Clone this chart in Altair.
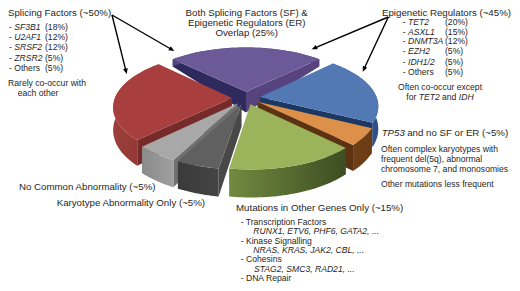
import numpy as np
import pandas as pd
import altair as alt

# ---------- data ----------
slice_names = ["Overlap", "Epigenetic", "TP53", "Other genes", "Karyotype", "No abnormality", "Splicing"]
slice_shares = [25, 20, 5, 15, 5, 5, 25]

# ---------- styles ----------
top_colors = ["#6b5a97", "#5379b5", "#dc9049", "#9bb35b", "#606060", "#a8a8a8", "#a83f3e"]
start_cut = ["#2e2a5e", None, None, None, "#484848", "#707070", "#772a2a"]
end_cut = ["#57447f", "#1d3763", "#5b3312", None, None, None, None]
rim_left = ["#57447f", "#3b5f9a", "#6f3f17", "#728a40", "#3a3a3a", "#8a8a8a", "#9c3f3b"]
rim_right = ["#57447f", "#2f4f85", "#6b3b14", "#3d4d22", "#444444", "#a0a0a0", "#8c3330"]
draw_order = [0, 1, 6, 2, 5, 4, 3]

CX, CY, A, B, P, EXPLODE = 246.0, 98.0, 117.0, 53.0, 0.156, 0.12


def project(X, Y, z=0.0):
    f = 1 / (1 - P * Y)
    depth = np.interp(Y, [-0.85, -0.1, 1.1], [7, 21, 28])
    return [float(CX + A * X * f), float(CY + B * Y * f + z * depth)]


def feature(points):
    return {"type": "Feature", "properties": {},
            "geometry": {"type": "Polygon", "coordinates": [points + [points[0]]]}}


PROJ = dict(type="identity", scale=1, translate=[-8, -8])


def shape(points, fill):
    return alt.Chart(alt.Data(values=[feature(points)])).mark_geoshape(
        filled=True, fill=fill, strokeWidth=0
    ).project(**PROJ)


layers = []
starts = 315 + np.concatenate([[0], np.cumsum(slice_shares)[:-1]]) * 3.6
for i in draw_order:
    t0 = np.radians(starts[i])
    t1 = np.radians(starts[i] + slice_shares[i] * 3.6)
    mid = (t0 + t1) / 2
    ox, oy = EXPLODE * np.sin(mid), -EXPLODE * np.cos(mid)
    thetas = np.linspace(t0, t1, 40)
    rim = [(ox + np.sin(t), oy - np.cos(t)) for t in thetas]
    apex = (ox, oy)
    top = [project(*apex)] + [project(*q) for q in rim]
    for q, col in ((rim[0], start_cut[i]), (rim[-1], end_cut[i])):
        if col:
            layers.append(shape([project(*apex), project(*q), project(*q, 1), project(*apex, 1)], col))
    wall = [project(*q) for q in rim] + [project(*q, 1) for q in rim[::-1]]
    grad = alt.LinearGradient(gradient="linear", x1=0, x2=1, y1=0, y2=0, stops=[
        alt.GradientStop(color=rim_left[i], offset=0), alt.GradientStop(color=rim_right[i], offset=1)])
    layers.append(shape(wall, grad))
    layers.append(shape(top, top_colors[i]))

# ---------- arrows ----------
arrow_from = [(112, 15), (112, 15), (388.3, 17), (388.3, 17)]
arrow_to = [(174.3, 51), (126.7, 74), (311.7, 49.3), (362.7, 71.7)]
for s, e in zip(arrow_from, arrow_to):
    s, e = np.array(s, float), np.array(e, float)
    u = (e - s) / np.linalg.norm(e - s)
    n = np.array([-u[1], u[0]])
    base = e - u * 5.5
    pts = [s + n * .7, base + n * .7, base + n * 2.4, e, base - n * 2.4, base - n * .7, s - n * .7]
    layers.append(shape([[float(p[0]), float(p[1])] for p in pts], "#000000"))

# ---------- text: (text, left/centre x, centre y) ----------
BIG, SMALL = 9.7, 8.6
normal_big = [
    ("Splicing Factors (~50%)", 8, 13, "left"),
    ("Both Splicing Factors (SF) &", 246.7, 12.5, "center"),
    ("Epigenetic Regulators (ER)", 246.7, 22.5, "center"),
    ("Overlap (25%)", 246.7, 32.5, "center"),
    ("Epigenetic Regulators (~45%)", 382, 13, "left"),
    ("and no SF or ER (~5%)", 407.2, 133.3, "left"),
    ("No Common Abnormality (~5%)", 19, 187.3, "left"),
    ("Karyotype Abnormality Only (~5%)", 56.7, 203, "left"),
    ("Mutations in Other Genes Only (~15%)", 236, 208.3, "left"),
]
italic_big = [("TP53", 381.7, 133.3, "left")]
normal_small = [
    ("-", 9, 26.7, "left"), ("(18%)", 45, 26.7, "left"),
    ("-", 9, 37, "left"), ("(12%)", 45, 37, "left"),
    ("-", 9, 47.3, "left"), ("(12%)", 45, 47.3, "left"),
    ("-", 9, 57.7, "left"), ("(5%)", 45, 57.7, "left"),
    ("- Others", 9, 68, "left"), ("(5%)", 45, 68, "left"),
    ("Rarely co-occur with", 47, 82.7, "center"),
    ("each other", 38, 93.3, "center"),
    ("-", 402.7, 22, "left"), ("(20%)", 445, 22, "left"),
    ("-", 402.7, 31.5, "left"), ("(15%)", 445, 31.5, "left"),
    ("-", 402.7, 41, "left"), ("(12%)", 445, 41, "left"),
    ("-", 402.7, 51.3, "left"), ("(5%)", 445, 51.3, "left"),
    ("-", 402.7, 61.7, "left"), ("(5%)", 445, 61.7, "left"),
    ("- Others", 402.7, 72, "left"), ("(5%)", 445, 72, "left"),
    ("Often co-occur except", 440, 86.7, "center"),
    ("for", 406.3, 96.7, "left"), ("and", 442, 96.7, "left"),
    ("Often complex karyotypes with", 381, 148.7, "left"),
    ("frequent del(5q), abnormal", 381, 159, "left"),
    ("chromosome 7, and monosomies", 381, 169.3, "left"),
    ("Other mutations less frequent", 381, 183.7, "left"),
    ("- Transcription Factors", 240.7, 222, "left"),
    ("- Kinase Signalling", 240.7, 240.6, "left"),
    ("- Cohesins", 240.7, 259.2, "left"),
    ("- DNA Repair", 240.7, 277.8, "left"),
]
italic_small = [
    ("SF3B1", 14.3, 26.7, "left"), ("U2AF1", 14.3, 37, "left"),
    ("SRSF2", 14.3, 47.3, "left"), ("ZRSR2", 14.3, 57.7, "left"),
    ("TET2", 408, 22, "left"), ("ASXL1", 408, 31.5, "left"),
    ("DNMT3A", 408, 41, "left"), ("EZH2", 408, 51.3, "left"),
    ("IDH1/2", 408, 61.7, "left"),
    ("TET2", 418.7, 96.7, "left"), ("IDH", 458.8, 96.7, "left"),
    ("RUNX1, ETV6, PHF6, GATA2, ...", 253.3, 231.3, "left"),
    ("NRAS, KRAS, JAK2, CBL, ...", 253.3, 249.9, "left"),
    ("STAG2, SMC3, RAD21, ...", 254, 268.5, "left"),
]


def text_layers(rows, size, style):
    out = []
    for al in ("left", "center"):
        sub = [r for r in rows if r[3] == al]
        if not sub:
            continue
        df = pd.DataFrame(sub, columns=["t", "x", "y", "a"])
        df["x"] -= 8
        df["y"] -= 8
        out.append(alt.Chart(df).mark_text(
            font="Liberation Sans", fontSize=size, fontStyle=style, align=al,
            baseline="middle", color="#262626"
        ).encode(x=alt.X("x:Q", scale=None, axis=None), y=alt.Y("y:Q", scale=None, axis=None),
                 text="t:N"))
    return out


layers += text_layers(normal_big, BIG, "normal") + text_layers(italic_big, BIG, "italic")
layers += text_layers(normal_small, SMALL, "normal") + text_layers(italic_small, SMALL, "italic")

chart = alt.layer(*layers).properties(
    width=504, height=275, padding=0, autosize="none", background="#ffffff"
).configure_view(stroke=None)

chart.save("out.html", embed_options={"renderer": "svg", "actions": False})
